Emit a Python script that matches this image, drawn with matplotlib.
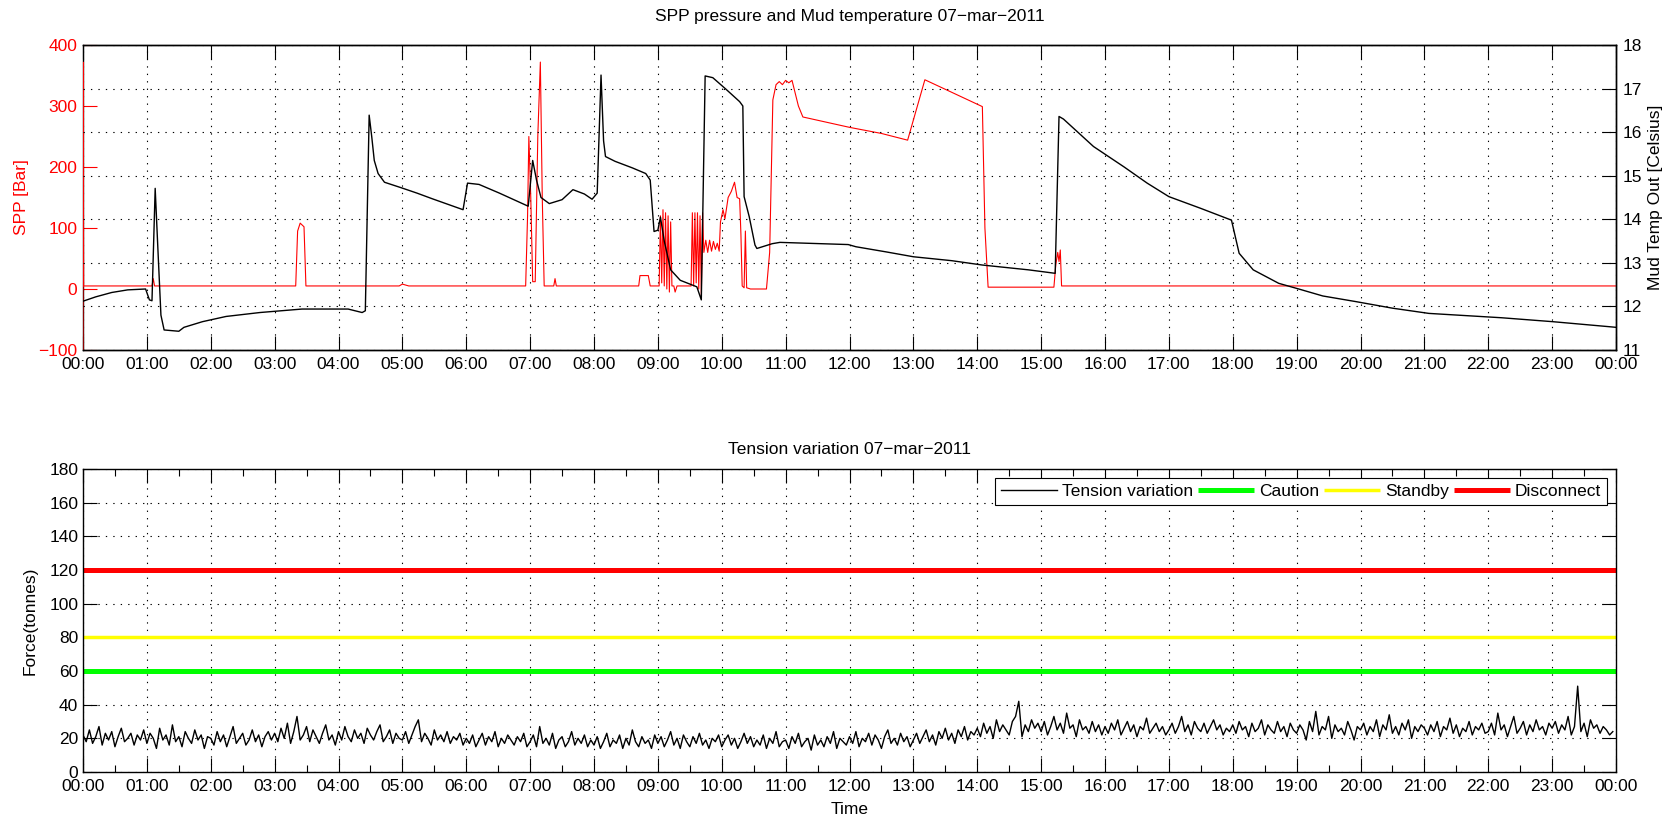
import numpy as np
import matplotlib
matplotlib.use("Agg")
import matplotlib.pyplot as plt

plt.rcParams['font.family'] = ['Liberation Sans', 'DejaVu Sans']

# ---------------- data ----------------
hour_labels = ["00:00", "01:00", "02:00", "03:00", "04:00", "05:00", "06:00", "07:00",
               "08:00", "09:00", "10:00", "11:00", "12:00", "13:00", "14:00", "15:00",
               "16:00", "17:00", "18:00", "19:00", "20:00", "21:00", "22:00", "23:00", "00:00"]

# SPP pressure [Bar] (hours, value)
spp_t = [0.0, 0.0, 0.01, 1.08, 1.10, 1.12, 3.33, 3.36, 3.40, 3.46, 3.49, 4.95, 5.00, 5.10,
         6.93, 6.96, 6.98, 7.01, 7.04, 7.08, 7.12, 7.16, 7.19, 7.22, 7.37, 7.39, 7.41,
         8.70, 8.72, 8.85, 8.88, 9.02, 9.04, 9.06, 9.08, 9.10, 9.12, 9.14, 9.16, 9.18, 9.20,
         9.22, 9.25, 9.27, 9.30, 9.52, 9.54, 9.56, 9.58, 9.60, 9.62, 9.64, 9.66, 9.68, 9.70,
         9.72, 9.75, 9.78, 9.81, 9.84, 9.87, 9.90, 9.93, 9.96, 9.98, 10.02, 10.05, 10.10,
         10.15, 10.20, 10.24, 10.28, 10.30, 10.32, 10.35, 10.37, 10.39, 10.45, 10.70, 10.75,
         10.80, 10.85, 10.90, 10.95, 11.00, 11.05, 11.10, 11.20, 11.27, 12.00, 12.50, 12.91,
         13.18, 14.08, 14.12, 14.17, 15.20, 15.23, 15.26, 15.28, 15.30, 15.32, 24.0]
spp_v = [-100, 372, 5, 5, 17, 5, 5, 95, 108, 102, 5, 5, 8, 5,
         5, 120, 250, 150, 12, 12, 250, 372, 150, 5, 5, 17, 5,
         5, 22, 22, 5, 5, 120, 10, 130, 5, 125, 0, 120, -5, 110,
         5, 5, -5, 5, 5, 125, 5, 125, 10, 125, 0, 120, -10, 125,
         60, 80, 60, 80, 62, 78, 65, 75, 62, 110, 130, 115, 150,
         160, 175, 150, 148, 90, 5, 2, 95, 2, 0, 0, 60,
         310, 335, 340, 335, 342, 338, 342, 300, 282, 265, 255, 244,
         343, 299, 100, 3, 3, 40, 60, 45, 64, 5, 5]

# Mud temperature out [Celsius] (hours, value)
temp_t = [0.00, 0.20, 0.45, 0.70, 0.98, 1.04, 1.08, 1.13, 1.17, 1.22, 1.27, 1.50, 1.58, 1.87,
          2.24, 2.77, 3.43, 4.15, 4.37, 4.42, 4.48, 4.52, 4.56, 4.62, 4.72, 4.99, 5.23, 5.47,
          5.95, 6.02, 6.20, 6.52, 6.82, 6.97, 7.04, 7.10, 7.17, 7.30, 7.50, 7.67, 7.85, 7.97,
          8.05, 8.11, 8.15, 8.18, 8.33, 8.60, 8.81, 8.88, 8.94, 9.00, 9.04, 9.10, 9.20, 9.35,
          9.61, 9.68, 9.74, 9.86, 10.07, 10.28, 10.33, 10.35, 10.43, 10.52, 10.55, 10.79, 10.91,
          11.98, 12.10, 12.58, 13.00, 13.60, 14.08, 14.80, 15.22, 15.28, 15.35, 15.82, 16.30,
          16.66, 17.00, 17.50, 17.98, 18.10, 18.32, 18.72, 19.01, 19.41, 19.93, 20.50, 21.07,
          22.21, 23.01, 23.93, 24.00]
temp_v = [12.12, 12.22, 12.32, 12.38, 12.40, 12.15, 12.13, 14.71, 13.40, 11.80, 11.46, 11.43,
          11.52, 11.65, 11.77, 11.86, 11.94, 11.94, 11.86, 11.90, 16.39, 15.90, 15.35, 15.05,
          14.85, 14.72, 14.60, 14.47, 14.22, 14.83, 14.80, 14.60, 14.40, 14.30, 15.35, 14.90,
          14.50, 14.36, 14.45, 14.68, 14.58, 14.46, 14.60, 17.31, 15.80, 15.44, 15.33, 15.18,
          15.05, 14.90, 13.72, 13.75, 14.05, 13.50, 12.84, 12.60, 12.45, 12.15, 17.29, 17.25,
          16.98, 16.70, 16.60, 14.52, 14.06, 13.41, 13.33, 13.44, 13.47, 13.42, 13.37, 13.25,
          13.14, 13.05, 12.95, 12.84, 12.76, 16.36, 16.30, 15.67, 15.20, 14.83, 14.52, 14.25,
          13.98, 13.22, 12.84, 12.53, 12.41, 12.24, 12.11, 11.96, 11.84, 11.74, 11.65, 11.53,
          11.52]

# Tension variation [tonnes], one sample every 3 minutes
tension = [
    22, 18, 25, 17, 21, 27, 16, 23, 19, 24, 15, 21, 26, 18, 20, 23, 16, 22, 19, 25,
    17, 23, 20, 14, 26, 19, 22, 16, 28, 18, 21, 15, 24, 20, 17, 25, 19, 22, 14, 21,
    20, 16, 24, 18, 22, 15, 21, 27, 17, 20, 23, 16, 19, 25, 18, 22, 15, 21, 24, 19,
    23, 18, 26, 20, 29, 17, 24, 33, 19, 22, 27, 18, 25, 21, 17, 23, 28, 19, 22, 16,
    24, 19, 27, 21, 18, 25, 20, 23, 17, 26, 22, 19, 24, 28, 18, 21, 25, 17, 23, 20,
    19, 24, 17, 22, 27, 31, 18, 23, 20, 16, 25, 19, 22, 18, 24, 17, 21, 19, 23, 16,
    20, 17, 22, 15, 19, 23, 16, 21, 18, 24, 15, 20, 17, 22, 19, 16, 21, 18, 23, 15,
    18, 22, 15, 27, 17, 20, 16, 23, 14, 19, 21, 15, 18, 24, 16, 20, 17, 22, 15, 19,
    16, 21, 14, 18, 23, 15, 19, 17, 22, 14, 20, 16, 25, 18, 15, 21, 17, 19, 14, 22,
    17, 21, 15, 19, 24, 16, 20, 14, 22, 18, 15, 21, 17, 23, 16, 19, 14, 20, 18, 22,
    15, 19, 22, 16, 20, 14, 18, 23, 17, 21, 15, 19, 16, 22, 14, 20, 17, 24, 15, 18,
    19, 14, 21, 17, 23, 15, 18, 20, 13, 22, 16, 19, 15, 21, 17, 24, 14, 20, 18, 16,
    21, 17, 24, 15, 20, 18, 23, 16, 22, 19, 14, 21, 25, 17, 20, 16, 23, 18, 21, 15,
    19, 23, 17, 21, 25, 18, 22, 16, 24, 20, 26, 19, 23, 17, 25, 21, 27, 19, 24, 22,
    26, 21, 29, 23, 27, 20, 31, 24, 28, 25, 22, 30, 33, 42, 21, 28, 24, 31, 26, 29,
    24, 30, 22, 27, 33, 25, 29, 23, 35, 26, 28, 21, 31, 25, 27, 23, 30, 24, 28, 22,
    27, 23, 29, 25, 31, 22, 26, 30, 24, 28, 21, 27, 25, 32, 23, 26, 29, 24, 27, 22,
    25, 29, 23, 27, 33, 24, 28, 22, 30, 26, 24, 29, 23, 27, 31, 25, 28, 22, 26, 24,
    28, 23, 30, 25, 27, 21, 29, 24, 26, 31, 22, 28, 25, 23, 30, 24, 27, 21, 29, 25,
    23, 28, 25, 19, 30, 24, 36, 22, 27, 25, 33, 20, 28, 24, 26, 22, 30, 25, 19, 27,
    25, 29, 22, 27, 24, 31, 21, 28, 25, 34, 23, 27, 22, 29, 25, 31, 20, 27, 24, 28,
    26, 22, 28, 24, 30, 21, 27, 25, 32, 23, 28, 21, 26, 24, 30, 22, 27, 25, 29, 23,
    24, 29, 22, 35, 25, 28, 21, 27, 33, 23, 26, 30, 22, 28, 24, 31, 25, 27, 22, 29,
    26, 30, 23, 28, 25, 33, 22, 27, 51, 24, 29, 21, 31, 26, 28, 23, 27, 25, 22, 24,
]
limit_names = ["Caution", "Standby", "Disconnect"]
limit_values = [60, 80, 120]
limit_colors = ["#00ff00", "#ffff00", "#ff0000"]
limit_widths = [3.6, 2.5, 3.6]

# ---------------- figure ----------------
W, H = 1673, 817
fig = plt.figure(figsize=(W / 100, H / 100), dpi=100)
L, R = 83, 1616
ax1 = fig.add_axes([L / W, 1 - 350 / H, (R - L) / W, (350 - 45) / H])
ax1r = ax1.twinx()
ax2 = fig.add_axes([L / W, 1 - 772 / H, (R - L) / W, (772 - 469) / H])

FS = 12.5
grid_style = dict(color='black', linestyle=(0, (1.2, 5.5)), linewidth=0.8)
hours = np.arange(len(hour_labels))

# --- top panel ---
ax1.plot(spp_t, spp_v, color='red', lw=0.8, zorder=3)
ax1r.plot(temp_t, temp_v, color='black', lw=1.0)
ax1.set_xlim(0, 24)
ax1.set_ylim(-100, 400)
ax1r.set_ylim(11, 18)
ax1.set_xticks(hours)
ax1.set_xticklabels(hour_labels, fontsize=FS)
ax1.set_yticks([-100, 0, 100, 200, 300, 400])
ax1.tick_params(axis='y', colors='red', labelsize=FS, direction='in', length=10, width=0.8, pad=4)
ax1.tick_params(axis='x', direction='in', length=10, width=0.8, top=True, labelsize=FS, pad=5)
ax1r.set_yticks(range(11, 19))
ax1r.tick_params(axis='y', colors='black', labelsize=FS, direction='in', length=10, width=0.8, pad=5)
ax1.xaxis.grid(True, **grid_style)
ax1r.yaxis.grid(True, **grid_style)
ax1.set_ylabel('SPP [Bar]', color='red', fontsize=FS)
ax1.yaxis.set_label_coords((29 - L) / (R - L), 0.5)
ax1r.set_ylabel('Mud Temp Out [Celsius]', fontsize=FS)
ax1r.yaxis.set_label_coords((1648 - L) / (R - L), 0.5)
for sp in list(ax1.spines.values()) + list(ax1r.spines.values()):
    sp.set_linewidth(1.0)
    sp.set_color('black')
ax1r.spines['left'].set_visible(False)
fig.text((L + R) / 2 / W, 1 - 16 / H, 'SPP pressure and Mud temperature 07\u2212mar\u22122011',
         ha='center', va='center', fontsize=FS)

# --- bottom panel ---
tension_t = np.arange(len(tension)) * 24.0 / len(tension)
ax2.plot(tension_t, tension, color='black', lw=1.0, label='Tension variation')
for name, val, col, lw in zip(limit_names, limit_values, limit_colors, limit_widths):
    ax2.plot([0, 24], [val, val], color=col, lw=lw, label=name, solid_capstyle='butt')
ax2.set_xlim(0, 24)
ax2.set_ylim(0, 180)
ax2.set_xticks(hours)
ax2.set_xticks(np.arange(0.5, 24, 1.0), minor=True)
ax2.set_xticklabels(hour_labels, fontsize=FS)
ax2.set_yticks(range(0, 181, 20))
ax2.tick_params(axis='both', which='major', direction='in', length=10, width=0.8,
                top=True, right=True, labelsize=FS)
ax2.tick_params(axis='x', which='major', pad=5)
ax2.tick_params(axis='x', which='minor', direction='in', length=5, width=0.8, top=True)
ax2.xaxis.grid(True, **grid_style)
ax2.yaxis.grid(True, **grid_style)
ax2.set_ylabel('Force(tonnes)', fontsize=FS)
ax2.yaxis.set_label_coords((38 - L) / (R - L), 0.5)
ax2.set_xlabel('Time', fontsize=FS)
ax2.xaxis.set_label_coords(0.5, (772 - 802) / (772 - 469))
for sp in ax2.spines.values():
    sp.set_linewidth(1.0)
fig.text((L + R) / 2 / W, 1 - 449 / H, 'Tension variation 07\u2212mar\u22122011',
         ha='center', va='center', fontsize=FS)
leg = ax2.legend(loc='upper right', ncol=4, fontsize=FS, handlelength=3.2, handletextpad=0.3,
                 columnspacing=0.3, borderpad=0.35, borderaxespad=0.5, fancybox=False,
                 framealpha=1, edgecolor='black')
leg.get_frame().set_linewidth(0.8)

fig.savefig('out.png', dpi=100)
